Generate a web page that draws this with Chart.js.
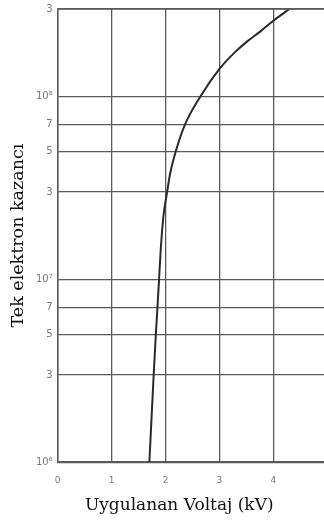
<!DOCTYPE html>
<html>
<head>
<meta charset="utf-8">
<script src="https://cdn.jsdelivr.net/npm/chart.js@4/dist/chart.umd.min.js"></script>
<style>
  html, body { margin: 0; padding: 0; background: #fff; overflow: hidden; }
  #wrap { width: 324px; height: 523px; overflow: hidden; }
  #c { display: block; margin-top: -2px; }
</style>
</head>
<body>
<div id="wrap"><canvas id="c" width="324" height="525"></canvas></div>
<script>
// Single-electron gain versus applied voltage
const voltage = [1.70, 1.78, 1.82, 1.85, 1.88, 1.91, 1.96, 2.03, 2.085, 2.19, 2.36, 2.65, 3.00, 3.26, 3.51, 3.75, 4.00, 4.30];
const gain    = [1e6, 3e6, 5e6, 7e6, 1e7, 1.44e7, 2.2e7, 3e7, 3.77e7, 5e7, 7e7, 1e8, 1.41e8, 1.71e8, 1.99e8, 2.25e8, 2.59e8, 3e8];

const yTickValues = [1e6, 3e6, 5e6, 7e6, 1e7, 3e7, 5e7, 7e7, 1e8, 3e8];
const yTickLabels = ['10\u2076', '3', '5', '7', '10\u2077', '3', '5', '7', '10\u2078', '3'];
const xTickValues = [0, 1, 2, 3, 4];
const xMax = 4.94;

const xTitle = 'Uygulanan Voltaj (kV)';
const yTitle = 'Tek elektron kazanc\u0131';

const gridColor = '#5a5a5a';
const tickColor = '#7a7a7a';
const captionFont = { family: 'DejaVu Serif', size: 17 };

// x-axis caption, drawn a little left of the plot centre
const captionPlugin = {
  id: 'xCaption',
  afterDraw(chart) {
    const { ctx, chartArea } = chart;
    ctx.save();
    ctx.font = `${captionFont.size}px "${captionFont.family}"`;
    ctx.fillStyle = '#111';
    ctx.textAlign = 'center';
    ctx.textBaseline = 'alphabetic';
    ctx.fillText(xTitle, chartArea.left + 121.5, chartArea.bottom + 48);
    ctx.restore();
  }
};

new Chart(document.getElementById('c'), {
  type: 'line',
  data: {
    datasets: [{
      data: voltage.map((v, i) => ({ x: v, y: gain[i] })),
      borderColor: '#2a2a2a',
      borderWidth: 2,
      pointRadius: 0,
      cubicInterpolationMode: 'monotone',
      fill: false
    }]
  },
  options: {
    responsive: false,
    animation: false,
    plugins: { legend: { display: false }, tooltip: { enabled: false } },
    layout: { padding: { left: 8, top: 0, right: 0, bottom: 24 } },
    scales: {
      x: {
        type: 'linear',
        min: 0, max: xMax,
        afterBuildTicks(scale) { scale.ticks = xTickValues.map(v => ({ value: v })); },
        grid: { color: gridColor, lineWidth: 1.3, drawTicks: false },
        border: { color: gridColor, width: 1.5 },
        ticks: { color: tickColor, font: { family: 'DejaVu Sans', size: 9 }, padding: 13,
                 callback: v => String(v) }
      },
      y: {
        type: 'logarithmic',
        min: 1e6, max: 3e8,
        afterBuildTicks(scale) { scale.ticks = yTickValues.map(v => ({ value: v })); },
        grid: { color: gridColor, lineWidth: 1.3, drawTicks: false },
        border: { color: gridColor, width: 1.5 },
        title: { display: true, text: yTitle, color: '#111',
                 font: { family: 'DejaVu Serif', size: 17.5 }, padding: { top: 0, bottom: 2 } },
        ticks: { color: tickColor, font: { family: 'DejaVu Sans', size: 10 }, padding: 5,
                 callback: (v, i) => yTickLabels[i] }
      }
    }
  },
  plugins: [captionPlugin, {
    id: 'topBorder',
    afterDraw(chart) {
      const { ctx, chartArea } = chart;
      ctx.save();
      ctx.strokeStyle = gridColor;
      ctx.lineWidth = 1.5;
      ctx.beginPath();
      ctx.moveTo(chartArea.left, chartArea.top);
      ctx.lineTo(chartArea.right, chartArea.top);
      ctx.stroke();
      ctx.restore();
    }
  }]
});
</script>
</body>
</html>
